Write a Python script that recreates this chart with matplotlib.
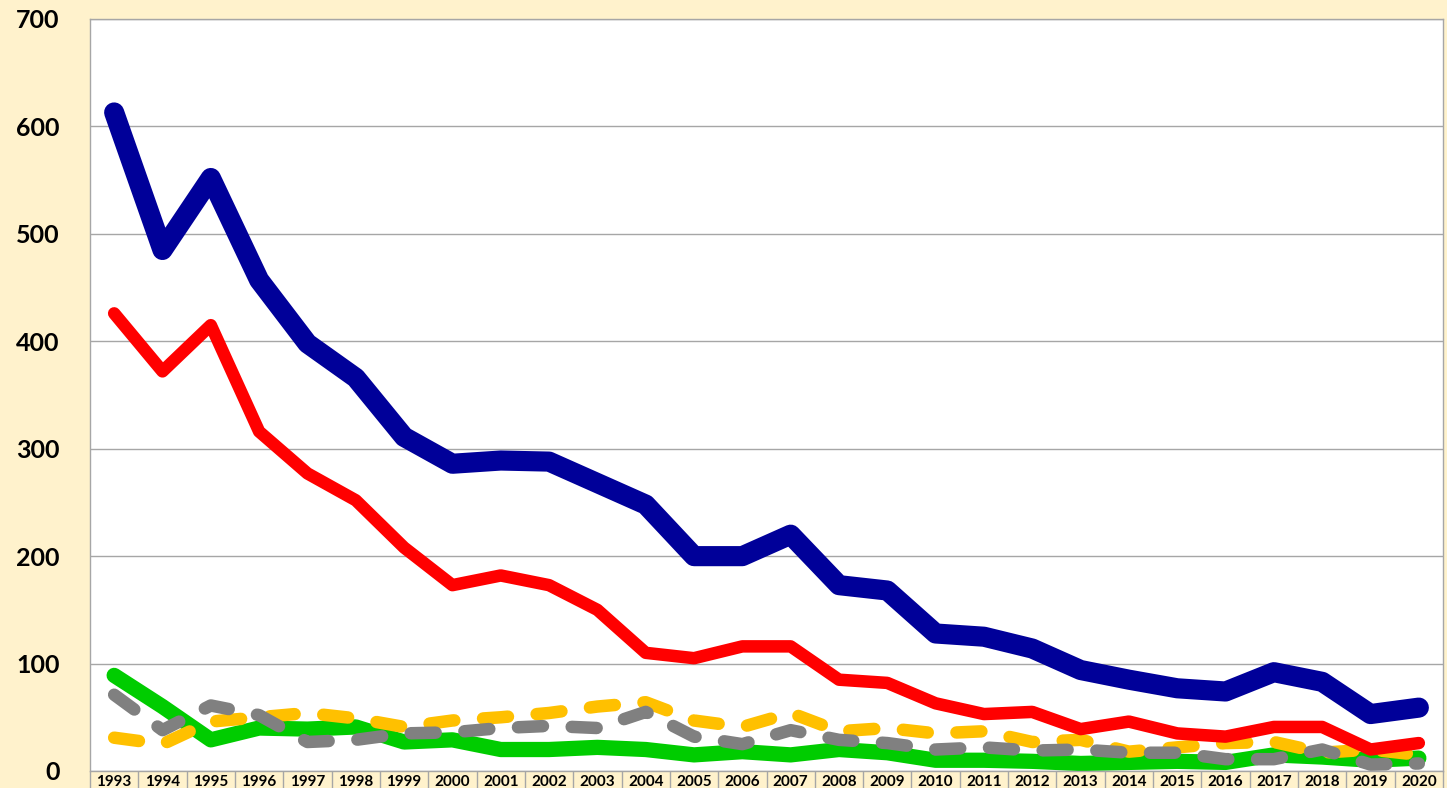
import matplotlib
matplotlib.use("Agg")
import matplotlib.pyplot as plt
import numpy as np

years = [str(y) for y in range(1993, 2021)]

blue = [613, 485, 552, 457, 398, 366, 311, 286, 289, 288, 268, 248, 200, 200,
        220, 173, 168, 128, 125, 114, 94, 85, 77, 74, 92, 83, 53, 59]
red = [426, 372, 415, 316, 277, 252, 208, 173, 182, 173, 150, 110, 105, 116,
       116, 85, 82, 63, 53, 55, 39, 46, 35, 32, 41, 41, 20, 26]
green = [89, 60, 29, 40, 39, 41, 27, 29, 20, 20, 22, 20, 15, 18,
         15, 20, 17, 10, 10, 9, 7, 8, 9, 8, 15, 13, 10, 12]
orange = [31, 25, 46, 50, 54, 49, 41, 47, 50, 54, 60, 64, 47, 41,
          54, 37, 40, 35, 37, 27, 29, 18, 22, 26, 27, 17, 20, 15]
grey = [71, 38, 61, 52, 27, 29, 35, 36, 40, 42, 40, 55, 32, 25,
        38, 29, 26, 20, 22, 19, 20, 17, 17, 11, 11, 20, 6, 7]

bg = "#FFF2CC"
x = np.arange(len(years))

fig = plt.figure(figsize=(14.47, 7.88), dpi=100, facecolor=bg)
ax = fig.add_axes([90 / 1447, 17 / 788, 1353 / 1447, 752 / 788])
ax.set_facecolor("white")

dash = (0, (2.0, 2.3))
ax.plot(x, green, color="#00CC00", lw=11, solid_capstyle="round",
        solid_joinstyle="round", zorder=2)
ax.plot(x, orange, color="#FFC000", lw=9, linestyle=dash,
        dash_capstyle="round", dash_joinstyle="round", zorder=3)
ax.plot(x, grey, color="#808080", lw=9, linestyle=dash,
        dash_capstyle="round", dash_joinstyle="round", zorder=4)
ax.plot(x, red, color="#FF0000", lw=9, solid_capstyle="round",
        solid_joinstyle="round", zorder=5)
ax.plot(x, blue, color="#000099", lw=14.5, solid_capstyle="round",
        solid_joinstyle="round", zorder=6)

ax.set_xlim(-0.5, len(years) - 0.5)
ax.set_ylim(0, 700)
ax.set_yticks(range(0, 701, 100))
ax.grid(axis="y", color="#A6A6A6", lw=1)
ax.set_axisbelow(True)

for s in ax.spines.values():
    s.set_color("#A6A6A6")
    s.set_linewidth(1)

# category cells below the axis
ax.set_xticks(np.arange(-0.5, len(years)), labels=[])
ax.set_xticks(x, labels=years, minor=True)
ax.tick_params(axis="x", which="major", length=14, color="#A6A6A6", width=1)
ax.tick_params(axis="x", which="minor", length=0, pad=3)
for lab in ax.get_xticklabels(minor=True):
    lab.set_fontfamily("Lato")
    lab.set_fontweight("bold")
    lab.set_fontsize(11)

ax.tick_params(axis="y", length=0, pad=22)
for lab in ax.get_yticklabels():
    lab.set_fontfamily("Lato")
    lab.set_fontweight("bold")
    lab.set_fontsize(18)

fig.savefig("out.png", dpi=100, facecolor=bg)
